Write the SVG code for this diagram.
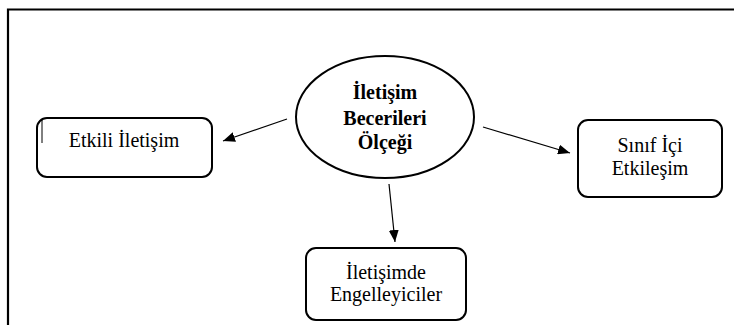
<svg xmlns="http://www.w3.org/2000/svg" width="734" height="325" viewBox="0 0 734 325">
  <defs>
    <marker id="arr" viewBox="0 0 12 10" refX="12" refY="5" markerWidth="12" markerHeight="10" markerUnits="userSpaceOnUse" orient="auto">
      <path d="M0,0 L12,5 L0,10 Z" fill="#000"/>
    </marker>
  </defs>
  <style>
    .box { fill: #fff; stroke: #000; stroke-width: 2; }
    .t { font-family: 'Liberation Serif', Tinos, 'DejaVu Serif', serif; font-size: 20px; fill: #000; text-anchor: middle; }
    .b { font-weight: bold; }
    .conn { stroke: #000; stroke-width: 1.2; fill: none; marker-end: url(#arr); }
  </style>
  <rect width="734" height="325" fill="#fff"/>
  <g id="frame">
    <path d="M8,325 L8,9.5 L734,9.5" fill="none" stroke="#000" stroke-width="2.2"/>
  </g>
  <g id="connectors">
    <line class="conn" x1="287" y1="119" x2="223" y2="141"/>
    <line class="conn" x1="483" y1="127" x2="570" y2="153"/>
    <line class="conn" x1="389" y1="184" x2="395" y2="242"/>
  </g>
  <g id="center">
    <ellipse class="box" cx="385" cy="117" rx="89" ry="61"/>
    <text class="t b" x="385" y="99">İletişim</text>
    <text class="t b" x="385" y="125">Becerileri</text>
    <text class="t b" x="385" y="149">Ölçeği</text>
  </g>
  <g id="etkili">
    <rect class="box" x="37" y="118" width="175" height="59" rx="10"/>
    <line x1="42" y1="120" x2="42" y2="143" stroke="#000" stroke-width="1"/>
    <text class="t" x="124" y="147">Etkili İletişim</text>
  </g>
  <g id="sinif">
    <rect class="box" x="578" y="120" width="144" height="77" rx="10"/>
    <text class="t" x="650" y="152">Sınıf İçi</text>
    <text class="t" x="650" y="175">Etkileşim</text>
  </g>
  <g id="engel">
    <rect class="box" x="306" y="248" width="160" height="72" rx="10"/>
    <text class="t" x="386" y="279">İletişimde</text>
    <text class="t" x="386" y="301">Engelleyiciler</text>
  </g>
</svg>
